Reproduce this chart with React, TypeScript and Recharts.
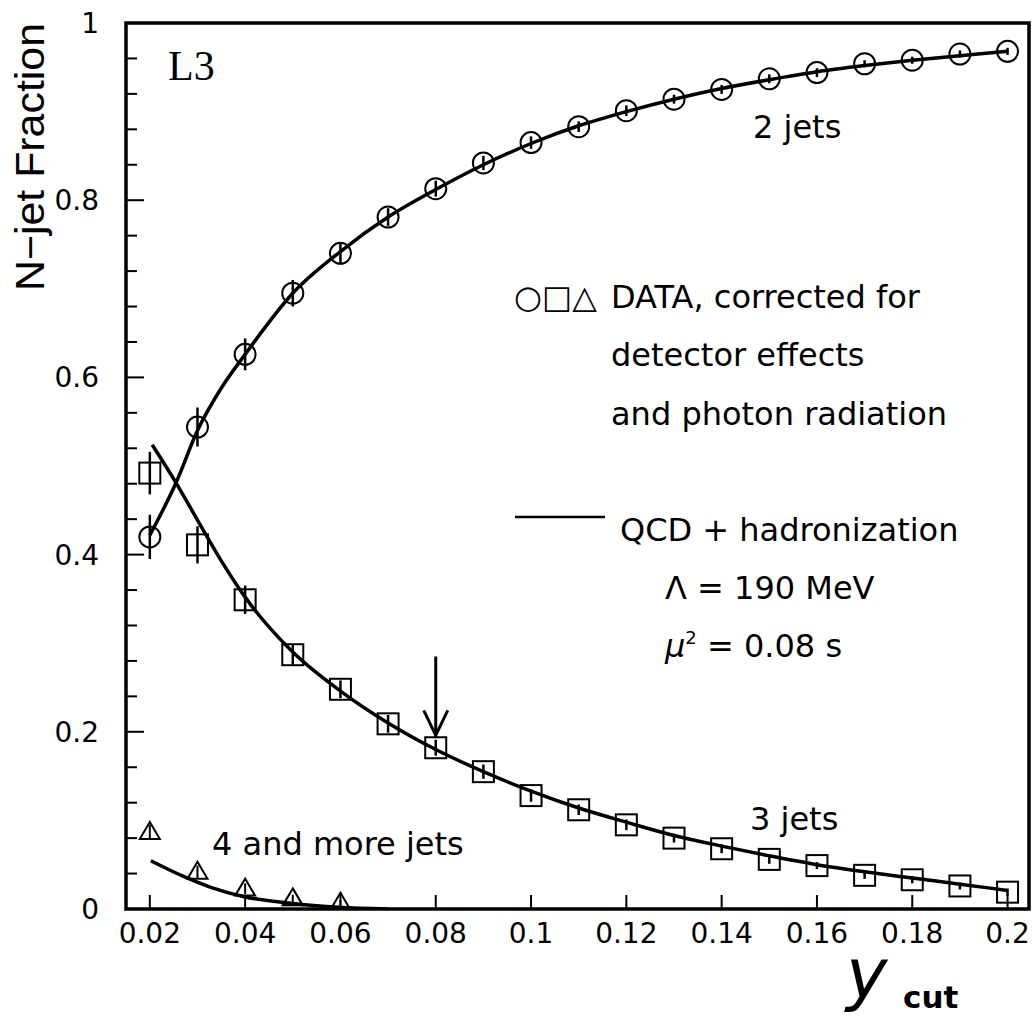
import React from "react";
import {
  ComposedChart,
  Line,
  Scatter,
  XAxis,
  YAxis,
  ErrorBar,
  ReferenceArea,
  ReferenceLine,
  ReferenceDot,
} from "recharts";

// y_cut values where the data points sit
const ycut = [0.02, 0.03, 0.04, 0.05, 0.06, 0.07, 0.08, 0.09, 0.1, 0.11, 0.12, 0.13, 0.14, 0.15, 0.16, 0.17, 0.18, 0.19, 0.2];

// 2 jets (circles)
const twoJet = [0.42, 0.544, 0.626, 0.695, 0.74, 0.781, 0.813, 0.842, 0.865, 0.883, 0.901, 0.914, 0.925, 0.937, 0.944, 0.954, 0.958, 0.965, 0.968];
const twoJetErr = [0.025, 0.022, 0.018, 0.015, 0.012, 0.01, 0.009, 0.008, 0.007, 0.006, 0.006, 0.005, 0.005, 0.005, 0.005, 0.004, 0.004, 0.004, 0.004];

// 3 jets (squares)
const threeJet = [0.492, 0.411, 0.349, 0.287, 0.248, 0.209, 0.182, 0.155, 0.128, 0.112, 0.095, 0.08, 0.068, 0.056, 0.049, 0.038, 0.033, 0.026, 0.019];
const threeJetErr = [0.024, 0.021, 0.016, 0.012, 0.01, 0.01, 0.009, 0.008, 0.007, 0.006, 0.006, 0.005, 0.005, 0.005, 0.004, 0.004, 0.004, 0.004, 0.004];

// 4 and more jets (triangles)
const fourJetX = [0.02, 0.03, 0.04, 0.05, 0.06];
const fourJet = [0.087, 0.042, 0.023, 0.012, 0.007];
const fourJetErr = [0.008, 0.007, 0.006, 0.004, 0.003];

// QCD + hadronization curves
const fit2X = [0.02, 0.0255, 0.03, 0.035, 0.04, 0.05, 0.06, 0.07, 0.08, 0.09, 0.1, 0.11, 0.12, 0.13, 0.14, 0.15, 0.16, 0.17, 0.18, 0.19, 0.2];
const fit2 = [0.422, 0.481, 0.54, 0.588, 0.626, 0.695, 0.742, 0.781, 0.812, 0.84, 0.864, 0.884, 0.9, 0.914, 0.926, 0.936, 0.945, 0.952, 0.958, 0.963, 0.968];
const fit3X = [0.0205, 0.0255, 0.03, 0.035, 0.04, 0.05, 0.06, 0.07, 0.08, 0.09, 0.1, 0.11, 0.12, 0.13, 0.14, 0.15, 0.16, 0.17, 0.18, 0.19, 0.2];
const fit3 = [0.524, 0.481, 0.439, 0.393, 0.352, 0.29, 0.246, 0.21, 0.18, 0.155, 0.133, 0.114, 0.098, 0.083, 0.071, 0.06, 0.05, 0.042, 0.035, 0.028, 0.021];
const fit4X = [0.0202, 0.0272, 0.0328, 0.0398, 0.0496, 0.0597, 0.07];
const fit4 = [0.0545, 0.0365, 0.0245, 0.0139, 0.0064, 0.0019, 0.0];

// axes
const xTicks = [0.02, 0.04, 0.06, 0.08, 0.1, 0.12, 0.14, 0.16, 0.18, 0.2];
const yTicks = [0, 0.04, 0.08, 0.12, 0.16, 0.2, 0.24, 0.28, 0.32, 0.36, 0.4, 0.44, 0.48, 0.52, 0.56, 0.6, 0.64, 0.68, 0.72, 0.76, 0.8, 0.84, 0.88, 0.92, 0.96, 1];
const yLabels = [0, 0.2, 0.4, 0.6, 0.8, 1];

// arrow at y_cut = 0.08, pointing at the 3-jet point
const arrowX = 0.08;
const arrowFrom = 0.285;
const arrowTo = 0.196;

const pts = (xs: number[], ys: number[], es?: number[]) =>
  xs.map((x, i) => ({ x, y: ys[i], e: es ? es[i] : 0 }));

const FONT = "'DejaVu Sans', sans-serif";

const XTick = (props: any) => {
  const { x, y, payload } = props;
  return (
    <g>
      <line x1={x} x2={x} y1={y} y2={y - 14} stroke="#000" strokeWidth={2} />
      <text x={x} y={y + 34} textAnchor="middle" fontSize={28} fontFamily={FONT} fill="#000">
        {String(payload.value)}
      </text>
    </g>
  );
};

const YTick = (props: any) => {
  const { x, y, payload } = props;
  const major = yLabels.some((v) => Math.abs(v - payload.value) < 1e-6);
  return (
    <g>
      <line x1={x} x2={x + (major ? 18 : 11)} y1={y} y2={y} stroke="#000" strokeWidth={2} />
      {major && (
        <text x={x - 27} y={y + 10} textAnchor="end" fontSize={28} fontFamily={FONT} fill="#000">
          {String(payload.value)}
        </text>
      )}
    </g>
  );
};

const Circle = (p: any) => <circle cx={p.cx} cy={p.cy} r={10.5} fill="none" stroke="#000" strokeWidth={2} />;
const Square = (p: any) => (
  <rect x={p.cx - 10.5} y={p.cy - 10.5} width={21} height={21} fill="none" stroke="#000" strokeWidth={2} />
);
const Triangle = (p: any) => (
  <path
    d={`M${p.cx},${p.cy - 10} L${p.cx + 10},${p.cy + 7} L${p.cx - 10},${p.cy + 7} Z`}
    fill="none"
    stroke="#000"
    strokeWidth={2}
  />
);
const ArrowHead = (p: any) => (
  <path
    d={`M${p.cx - 12},${p.cy - 25} L${p.cx},${p.cy} L${p.cx + 12},${p.cy - 25}`}
    fill="none"
    stroke="#000"
    strokeWidth={3}
  />
);

const txt = { fontFamily: FONT, fontSize: 32, fill: "#000" } as const;

export default function App() {
  return (
    <div style={{ position: "absolute", left: 0, top: 0, width: 1033, height: 1018, background: "#fff" }}>
      <ComposedChart width={1033} height={1018} margin={{ top: 23, right: 4, left: 26, bottom: 49 }}>
        <XAxis
          type="number"
          dataKey="x"
          domain={[0.015, 0.2045]}
          ticks={xTicks}
          allowDataOverflow
          axisLine={false}
          tickLine={false}
          tickSize={0}
          tickMargin={0}
          height={60}
          tick={<XTick />}
        />
        <YAxis
          type="number"
          dataKey="y"
          domain={[0, 1]}
          ticks={yTicks}
          allowDataOverflow
          axisLine={false}
          tickLine={false}
          tickSize={0}
          tickMargin={0}
          width={100}
          tick={<YTick />}
        />
        <ReferenceArea x1={0.015} x2={0.2045} y1={0} y2={1} fill="none" stroke="#000" strokeWidth={3.5} />
        <Line data={pts(fit2X, fit2)} dataKey="y" type="monotone" stroke="#000" strokeWidth={3.5} dot={false} isAnimationActive={false} />
        <Line data={pts(fit3X, fit3)} dataKey="y" type="monotone" stroke="#000" strokeWidth={3.5} dot={false} isAnimationActive={false} />
        <Line data={pts(fit4X, fit4)} dataKey="y" type="monotone" stroke="#000" strokeWidth={3.5} dot={false} isAnimationActive={false} />
        <Scatter data={pts(ycut, twoJet, twoJetErr)} dataKey="y" shape={Circle} isAnimationActive={false}>
          <ErrorBar dataKey="e" direction="y" width={0} stroke="#000" strokeWidth={2.5} />
        </Scatter>
        <Scatter data={pts(ycut, threeJet, threeJetErr)} dataKey="y" shape={Square} isAnimationActive={false}>
          <ErrorBar dataKey="e" direction="y" width={0} stroke="#000" strokeWidth={2.5} />
        </Scatter>
        <Scatter data={pts(fourJetX, fourJet, fourJetErr)} dataKey="y" shape={Triangle} isAnimationActive={false}>
          <ErrorBar dataKey="e" direction="y" width={0} stroke="#000" strokeWidth={2} />
        </Scatter>
        <ReferenceLine
          segment={[
            { x: arrowX, y: arrowFrom },
            { x: arrowX, y: arrowTo },
          ]}
          stroke="#000"
          strokeWidth={3}
        />
        <ReferenceDot x={arrowX} y={arrowTo} shape={ArrowHead} />
      </ComposedChart>
      <svg
        width={1033}
        height={1018}
        style={{ position: "absolute", left: 0, top: 0, pointerEvents: "none" }}
      >
        <text
          transform="translate(44,157) rotate(-90)"
          textAnchor="middle"
          fontFamily="'Liberation Sans Narrow', 'Liberation Sans', sans-serif"
          fontSize={40}
          textLength={268}
          lengthAdjust="spacingAndGlyphs"
          fill="#000"
        >
          N−jet Fraction
        </text>
        <text x={168} y={80} fontFamily="'Liberation Serif', serif" fontSize={42} fill="#000">
          L3
        </text>
        <text x={753} y={138} {...txt}>2 jets</text>
        <text x={750} y={830} {...txt}>3 jets</text>
        <text x={212} y={855} {...txt}>4 and more jets</text>
        <text x={514} y={308} {...txt}>○□△</text>
        <text x={611} y={308} {...txt}>DATA, corrected for</text>
        <text x={611} y={366} {...txt}>detector effects</text>
        <text x={611} y={425} {...txt}>and photon radiation</text>
        <line x1={515} x2={605} y1={517} y2={517} stroke="#000" strokeWidth={2.5} />
        <text x={620} y={541} {...txt}>QCD + hadronization</text>
        <text x={665} y={599} {...txt}>Λ = 190 MeV</text>
        <text x={665} y={657} {...txt}>
          <tspan fontStyle="italic">μ</tspan>
          <tspan dy={-13} fontSize={18}>2</tspan>
          <tspan dy={13}> = 0.08 s</tspan>
        </text>
        <text x={846} y={998} fontFamily={FONT} fontStyle="italic" fontSize={70} fill="#000">
          y
        </text>
        <text x={903} y={1008} fontFamily={FONT} fontWeight="bold" fontSize={31} fill="#000">
          cut
        </text>
      </svg>
    </div>
  );
}
